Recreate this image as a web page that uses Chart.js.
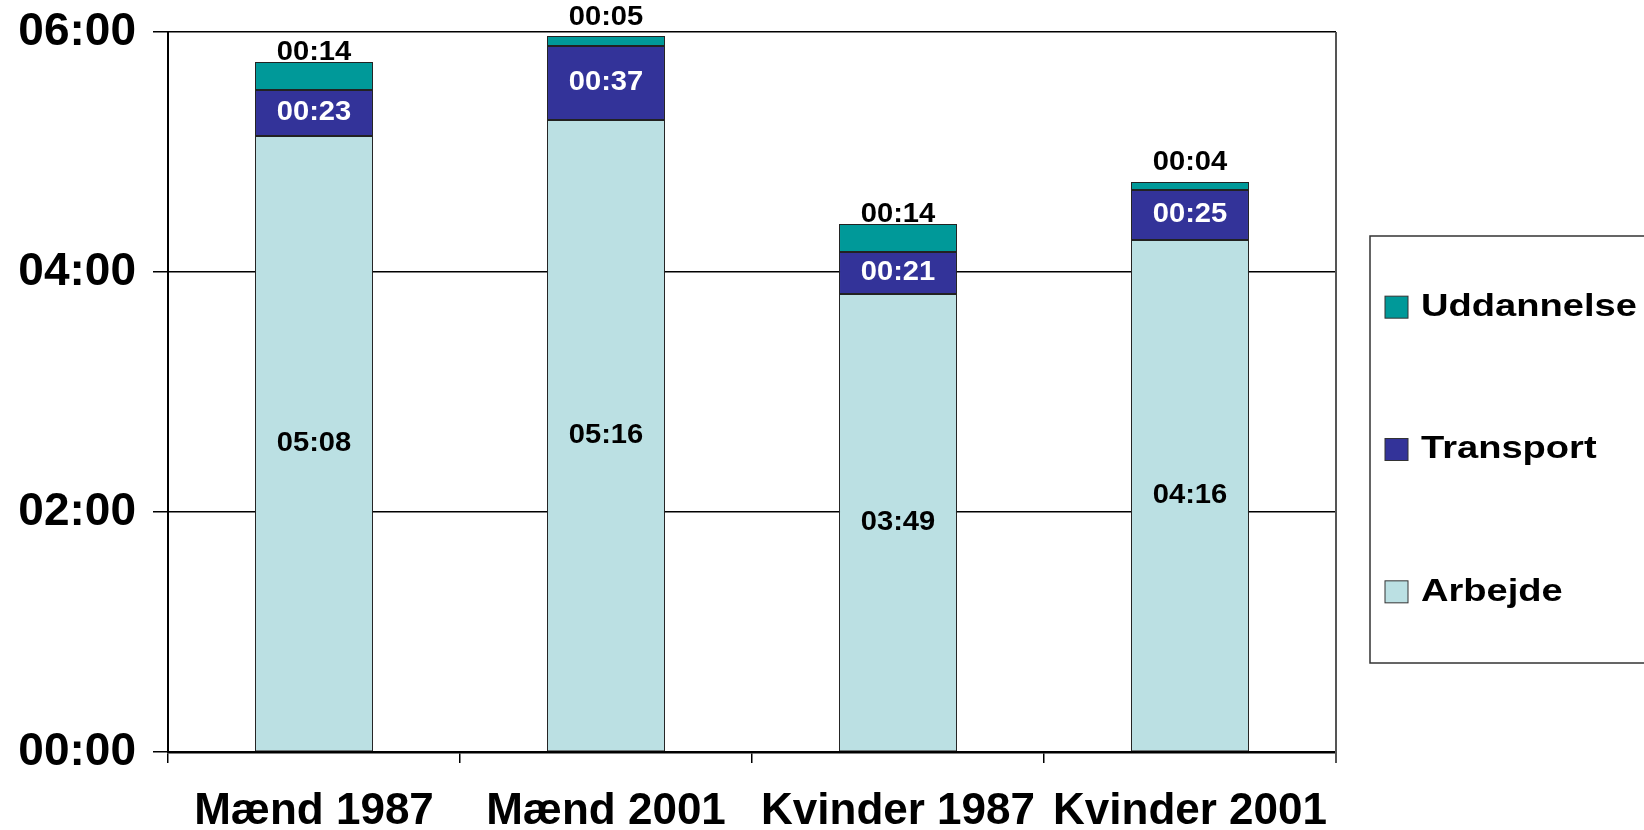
<!DOCTYPE html>
<html>
<head>
<meta charset="utf-8">
<title>Tidsforbrug</title>
<script src="https://cdn.jsdelivr.net/npm/chart.js@4/dist/chart.umd.min.js"></script>
<style>
    html, body { margin: 0; padding: 0; background: #fff; }
    canvas { display: block; }
</style>
</head>
<body>
<canvas id="chart" width="1644" height="830"></canvas>
<script>
// values in minutes per day
const categories = ['Mænd 1987', 'Mænd 2001', 'Kvinder 1987', 'Kvinder 2001'];
const arbejde = [308, 316, 229, 256];
const transport = [23, 37, 21, 25];
const uddannelse = [14, 5, 14, 4];
const yTicks = [0, 120, 240, 360];

const FONT = '"Liberation Sans", Arial, Helvetica, sans-serif';

function pad(n) {
    return String(n).padStart(2, '0');
}

function hhmm(min) {
    return pad(Math.floor(min / 60)) + ':' + pad(min % 60);
}

// draw text with a horizontal stretch
function drawText(ctx, text, x, y, color, size, sx, align) {
    ctx.save();
    ctx.translate(x, y);
    ctx.scale(sx, 1);
    ctx.font = 'bold ' + size + 'px ' + FONT;
    ctx.fillStyle = color;
    ctx.textAlign = align || 'center';
    ctx.textBaseline = 'middle';
    ctx.fillText(text, 0, 0);
    ctx.restore();
}

const segmentLabels = {
    id: 'segmentLabels',
    afterDatasetsDraw(chart) {
        const ctx = chart.ctx;
        chart.data.datasets.forEach((ds, di) => {
            const meta = chart.getDatasetMeta(di);
            meta.data.forEach((bar, i) => {
                const mid = (bar.y + bar.base) / 2;
                const y = ds.labelAbove ? mid - 23 : mid;
                drawText(ctx, hhmm(ds.data[i]), bar.x, y, ds.labelColor, 27, 1.08);
            });
        });
    }
};

const frameAndLegend = {
    id: 'frameAndLegend',
    afterDraw(chart) {
        const ctx = chart.ctx;
        const area = chart.chartArea;

        // right border of the plot
        ctx.save();
        ctx.strokeStyle = '#555';
        ctx.lineWidth = 2;
        ctx.beginPath();
        ctx.moveTo(area.right, area.top);
        ctx.lineTo(area.right, area.bottom + 11);
        ctx.stroke();
        ctx.restore();

        // legend box
        const box = { x: 1370, y: 236, w: 400, h: 427 };
        ctx.save();
        ctx.strokeStyle = '#333';
        ctx.lineWidth = 1.5;
        ctx.strokeRect(box.x, box.y, box.w, box.h);
        ctx.restore();

        const items = chart.data.datasets.slice().reverse();
        items.forEach((ds, i) => {
            const yc = box.y + box.h * (i + 0.5) / items.length;
            ctx.save();
            ctx.fillStyle = ds.backgroundColor;
            ctx.strokeStyle = '#333';
            ctx.lineWidth = 1;
            ctx.fillRect(1385, yc - 11, 23, 22);
            ctx.strokeRect(1385, yc - 11, 23, 22);
            ctx.restore();
            drawText(ctx, ds.label, 1421, yc, '#000', 32, 1.19, 'left');
        });
    }
};

new Chart(document.getElementById('chart').getContext('2d'), {
    type: 'bar',
    data: {
        labels: categories,
        datasets: [
            {
                label: 'Arbejde',
                data: arbejde,
                backgroundColor: '#BBE0E3',
                labelColor: '#000'
            },
            {
                label: 'Transport',
                data: transport,
                backgroundColor: '#333399',
                labelColor: '#fff'
            },
            {
                label: 'Uddannelse',
                data: uddannelse,
                backgroundColor: '#009999',
                labelColor: '#000',
                labelAbove: true
            }
        ]
    },
    options: {
        responsive: false,
        animation: false,
        layout: { padding: { top: 32, right: 308, left: 0, bottom: 0 } },
        datasets: {
            bar: {
                borderColor: '#222',
                borderWidth: 1,
                borderSkipped: false,
                barPercentage: 0.404,
                categoryPercentage: 1
            }
        },
        plugins: {
            legend: { display: false },
            tooltip: { enabled: false }
        },
        scales: {
            x: {
                stacked: true,
                afterFit(scale) {
                    scale.height = 78;
                    scale.paddingLeft = 0;
                    scale.paddingRight = 0;
                },
                border: { color: '#000', width: 2.5 },
                grid: {
                    offset: true,
                    drawOnChartArea: false,
                    tickLength: 11,
                    color: '#000',
                    lineWidth: 1.5
                },
                ticks: {
                    autoSkip: false,
                    maxRotation: 0,
                    padding: 22,
                    color: '#000',
                    font: { family: FONT, size: 44, weight: 'bold' }
                }
            },
            y: {
                stacked: true,
                min: 0,
                max: 360,
                afterFit(scale) {
                    scale.width = 168;
                    scale.paddingTop = 0;
                    scale.paddingBottom = 0;
                },
                afterBuildTicks(scale) {
                    scale.ticks = yTicks.map(v => ({ value: v }));
                },
                border: { color: '#000', width: 2 },
                grid: {
                    color: '#000',
                    lineWidth: 1.5,
                    tickLength: 15
                },
                ticks: {
                    padding: 17,
                    color: '#000',
                    font: { family: FONT, size: 46, weight: 'bold' },
                    callback: v => hhmm(v)
                }
            }
        }
    },
    plugins: [segmentLabels, frameAndLegend]
});
</script>
</body>
</html>
